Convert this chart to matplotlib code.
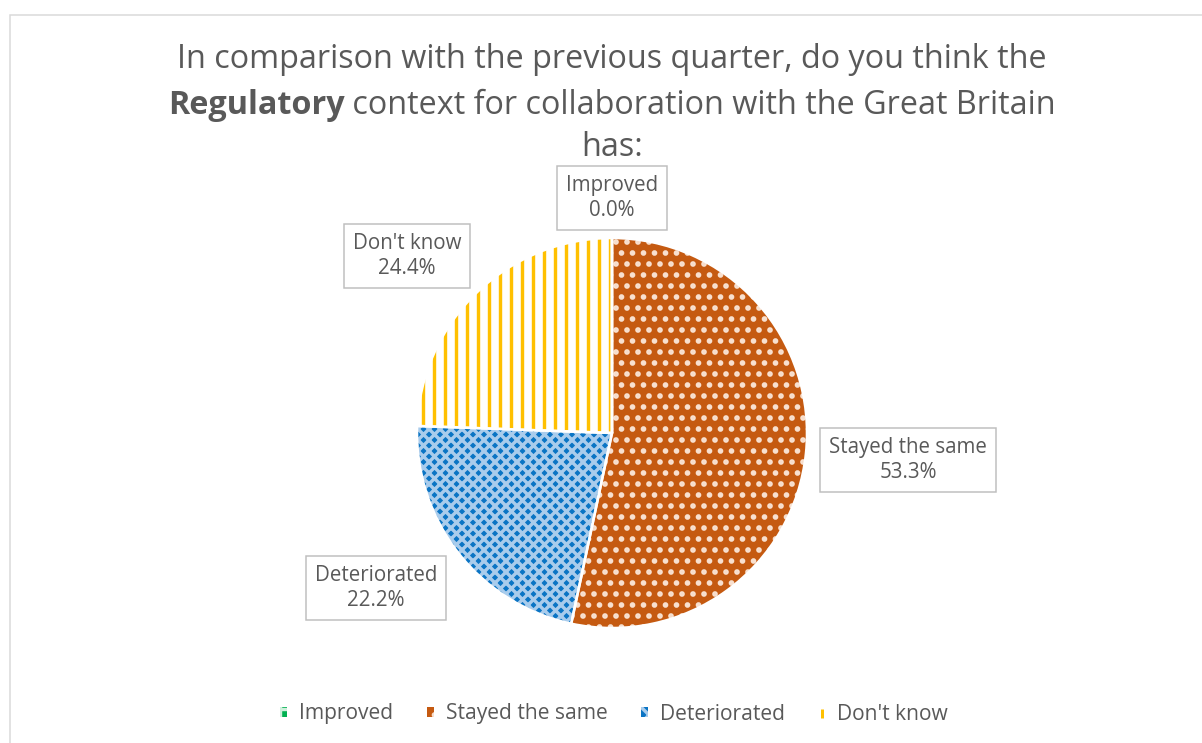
import matplotlib
matplotlib.use("Agg")
import matplotlib.pyplot as plt
from matplotlib.patches import Rectangle, Patch
from matplotlib.lines import Line2D

categories = ["Improved", "Stayed the same", "Deteriorated", "Don't know"]
values = [0.0, 53.3, 22.2, 24.4]
colors = ["#00B050", "#C55A11", "#0070C0", "#FFC000"]
title_line1 = "In comparison with the previous quarter, do you think the"
title_bold = "Regulatory"
title_rest = " context for collaboration with the Great Britain"
title_line3 = "has:"

DPI = 66
W, H = 1202, 743
def pt(p):
    return p * 72.0 / DPI

plt.rcParams['font.family'] = ['Open Sans', 'DejaVu Sans']
plt.rcParams['hatch.linewidth'] = pt(3.4)

fig = plt.figure(figsize=(W / DPI, H / DPI), dpi=DPI)
fig.patch.set_facecolor("white")

# chart border
fig.add_artist(Rectangle((10 / W, -0.1), 1.2, 1 - 15 / H + 0.1, transform=fig.transFigure,
                         fill=False, edgecolor="#D9D9D9", linewidth=pt(1.5)))

cx, cy, R = 612, 433, 195
ax = fig.add_axes([(cx - R) / W, (H - cy - R) / H, 2 * R / W, 2 * R / H])

styles = [
    dict(face="#00B050", hatch="..", hatchcol="white"),
    dict(face="#C55A11", hatch=".", hatchcol="#F8E0CF"),
    dict(face="#0A74C4", hatch="xx", hatchcol="#A9CCEC"),
    dict(face="white", hatch="|", hatchcol="#FFC000"),
]
wedges, _ = ax.pie(values, startangle=90, counterclock=False, radius=1)
for w, st in zip(wedges, styles):
    w.set_facecolor(st["face"])
    w.set_hatch(st["hatch"])
    w.set_edgecolor(st["hatchcol"])
    w.set_linewidth(0)

# white separators
ax.pie(values, startangle=90, counterclock=False, radius=1,
       wedgeprops=dict(fill=False, edgecolor="white", linewidth=pt(2.5)))
ax.set_xlim(-1, 1)
ax.set_ylim(-1, 1)
ax.set_aspect("equal")
ax.axis("off")

# data labels
label_pos = [(612, 198), (908, 460), (376, 588), (407, 256)]
for cat, v, (lx, ly) in zip(categories, values, label_pos):
    fig.text(lx / W, 1 - ly / H, f"{cat}\n{v:.1f}%", ha="center", va="center",
             fontsize=pt(20.5), color="#595959", linespacing=1.3,
             bbox=dict(boxstyle="square,pad=0.42", facecolor="white",
                       edgecolor="#BFBFBF", linewidth=pt(1.5)))

# title
tcol = "#595959"
tsize = pt(32.4)
fig.text(612 / W, 1 - 60 / H, title_line1, ha="center", va="center", fontsize=tsize, color=tcol)
renderer = fig.canvas.get_renderer()
tb = fig.text(0, 1 - 106 / H, title_bold, ha="left", va="center", fontsize=tsize,
              color=tcol, fontweight="bold")
tr = fig.text(0, 1 - 106 / H, title_rest, ha="left", va="center", fontsize=tsize, color=tcol)
wb = tb.get_window_extent(renderer).width
wr = tr.get_window_extent(renderer).width
x0 = 612 - (wb + wr) / 2
tb.set_x(x0 / W)
tr.set_x((x0 + wb) / W)
fig.text(612 / W, 1 - 148 / H, title_line3, ha="center", va="center", fontsize=tsize, color=tcol)

# legend
handles = [
    Patch(facecolor="#00B050", edgecolor="#CFF0DC", hatch="+", linewidth=0),
    Patch(facecolor="#C55A11", edgecolor="#F8E0CF", hatch=".", linewidth=0),
    Patch(facecolor="#0A74C4", edgecolor="#A9CCEC", hatch="x", linewidth=0),
    Line2D([], [], color="#FFC000", marker="|", linestyle="none", markersize=pt(9),
           markeredgewidth=pt(3)),
]
leg = fig.legend(handles, categories, loc="center", bbox_to_anchor=(614 / W, 1 - 714 / H),
                 ncol=4, frameon=False, fontsize=pt(21), labelcolor="#595959",
                 handlelength=0.35, handleheight=0.4, handletextpad=0.55, columnspacing=1.6)

fig.savefig("out.png", dpi=DPI, facecolor="white")
